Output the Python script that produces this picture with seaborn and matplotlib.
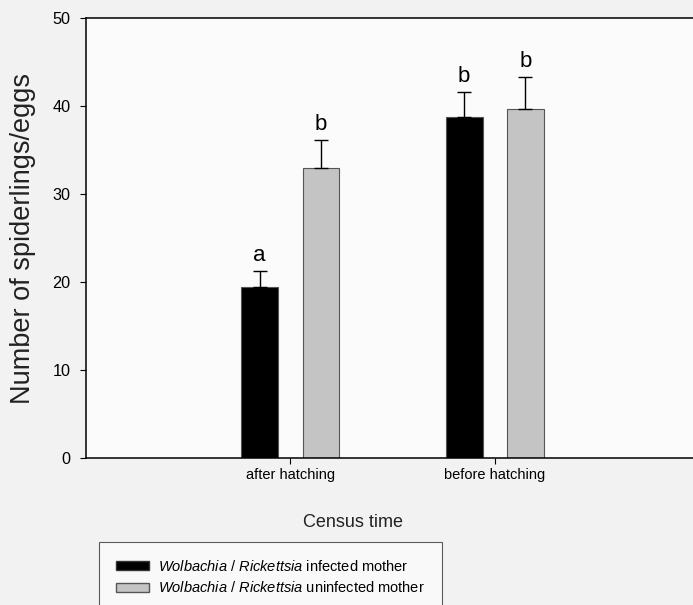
import pandas as pd
import matplotlib
matplotlib.use("Agg")
import matplotlib.pyplot as plt
import seaborn as sns
from matplotlib.patches import Patch

census = ["after hatching", "before hatching"]
groups = ["infected", "uninfected"]
infected_mean = [19.4, 38.8]
infected_se = [1.8, 2.8]
uninfected_mean = [33.0, 39.7]
uninfected_se = [3.1, 3.6]
letters_infected = ["a", "b"]
letters_uninfected = ["b", "b"]

df = pd.DataFrame({
    "Census": census * 2,
    "Group": [groups[0]] * 2 + [groups[1]] * 2,
    "Mean": infected_mean + uninfected_mean,
    "SE": infected_se + uninfected_se,
    "Letter": letters_infected + letters_uninfected,
})

sns.set_style("ticks")
plt.rcParams['font.family'] = ['Liberation Sans', 'DejaVu Sans']
plt.rcParams['mathtext.fontset'] = 'custom'
plt.rcParams['mathtext.it'] = 'Liberation Sans:italic'
plt.rcParams['mathtext.rm'] = 'Liberation Sans'
plt.rcParams['text.color'] = 'black'
plt.rcParams['axes.labelcolor'] = '#222222'
plt.rcParams['xtick.color'] = 'black'
plt.rcParams['ytick.color'] = 'black'

fig = plt.figure(figsize=(6.93, 6.05), dpi=100, facecolor='#f2f2f2')
ax = fig.add_axes([0.124, 0.243, 0.885, 0.727])
ax.set_facecolor('#fbfbfb')

sns.barplot(data=df, x="Census", y="Mean", hue="Group", hue_order=groups,
            palette=["black", "#c4c4c4"], width=0.6, gap=0.4, errorbar=None,
            edgecolor="#555555", linewidth=0.8, legend=False, ax=ax)

# one-sided error bars + significance letters, from the bar patches
for patch, (_, row) in zip(ax.patches, df.iterrows()):
    cx = patch.get_x() + patch.get_width() / 2
    top = patch.get_height()
    ax.errorbar(cx, top, yerr=[[0], [row["SE"]]], fmt='none', ecolor='black',
                elinewidth=1, capsize=5, capthick=1)
    ax.text(cx, top + row["SE"] + 0.6, row["Letter"], ha='center', va='bottom',
            fontsize=16)

ax.set_xlim(-1, 2)
ax.set_ylim(0, 50)
ax.set_yticks([0, 10, 20, 30, 40, 50])
ax.tick_params(axis='both', length=4, width=0.8)
ax.tick_params(axis='x', labelsize=10.5)
ax.tick_params(axis='y', labelsize=11.7, pad=7)
ax.set_xlabel("Census time", fontsize=13)
ax.set_ylabel("Number of spiderlings/eggs", fontsize=19.5)
ax.xaxis.set_label_coords(0.435, -0.127)
ax.yaxis.set_label_coords(-0.082, 0.5)
for side in ["left", "bottom", "top"]:
    ax.spines[side].set_visible(True)
    ax.spines[side].set_linewidth(1.1)
    ax.spines[side].set_color('black')
ax.spines["right"].set_visible(False)

handles = [Patch(facecolor="black", edgecolor="#333333"),
           Patch(facecolor="#c4c4c4", edgecolor="#555555")]
labels = [r"$\it{Wolbachia\ /\ Rickettsia}$ infected mother",
          r"$\it{Wolbachia\ /\ Rickettsia}$ uninfected mother"]
leg = fig.legend(handles, labels, loc='upper left', bbox_to_anchor=(0.143, 0.104),
                 borderaxespad=0, fontsize=10.5, frameon=True, fancybox=False,
                 edgecolor='#333333', handlelength=2.3, handleheight=0.6,
                 labelspacing=0.45, borderpad=1.15, handletextpad=0.6)
leg.get_frame().set_facecolor('#fbfbfb')
leg.get_frame().set_linewidth(0.8)

fig.savefig("out.png", dpi=100, facecolor=fig.get_facecolor())
